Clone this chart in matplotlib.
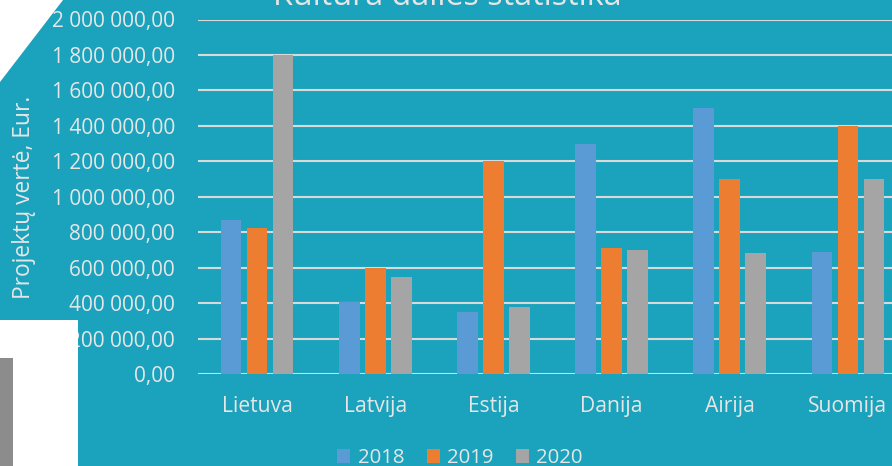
import matplotlib
matplotlib.use("Agg")
import matplotlib.pyplot as plt
from matplotlib.patches import Polygon, Rectangle
import numpy as np

categories = ["Lietuva", "Latvija", "Estija", "Danija", "Airija", "Suomija"]
years = ["2018", "2019", "2020"]
v2018 = [870000, 405000, 350000, 1300000, 1500000, 690000]
v2019 = [825000, 600000, 1200000, 710000, 1100000, 1400000]
v2020 = [1800000, 545000, 380000, 700000, 680000, 1100000]
yticks = [0, 200000, 400000, 600000, 800000, 1000000, 1200000, 1400000, 1600000, 1800000, 2000000]
title = "Kultūra dalies statistika"
ylabel = "Projektų vertė, Eur."

plt.rcParams['font.family'] = ['Open Sans', 'DejaVu Sans']
W, H = 892, 466
bg = "#1BA3BD"
txt = "#E6E6E6"
colors = ["#5B9BD5", "#ED7D31", "#A5A5A5"]

fig = plt.figure(figsize=(W / 100, H / 100), dpi=100)
fig.patch.set_facecolor(bg)

def fx(x): return x / W
def fy(y): return 1 - y / H
fig.patches.append(Polygon([(fx(0), fy(0)), (fx(63), fy(0)), (fx(0), fy(82))],
                           closed=True, transform=fig.transFigure, facecolor="white",
                           edgecolor="none", zorder=0))
fig.patches.append(Rectangle((fx(0), fy(466)), fx(78), fy(320) - fy(466),
                             transform=fig.transFigure, facecolor="white",
                             edgecolor="none", zorder=0))
fig.patches.append(Rectangle((fx(0), fy(466)), fx(13), fy(358) - fy(466),
                             transform=fig.transFigure, facecolor="#8C8C8C",
                             edgecolor="none", zorder=0))

left, right = 198, 907
top, bottom = 19.5, 374
ax = fig.add_axes([left / W, 1 - bottom / H, (right - left) / W, (bottom - top) / H])
ax.set_facecolor("none")

x = np.arange(len(categories))
off = 0.22
wid = 0.175
for i, (vals, c, lab) in enumerate(zip([v2018, v2019, v2020], colors, years)):
    ax.bar(x + (i - 1) * off, vals, width=wid, color=c, label=lab, zorder=3)

ax.set_xlim(-0.5, len(categories) - 0.5)
ax.set_ylim(0, 2000000)
ax.set_yticks(yticks)

def fmt(v):
    s = f"{int(v):,}".replace(",", " ")
    return s + ",00"

ax.set_yticklabels([fmt(v) for v in yticks], color=txt, fontsize=15)
ax.set_xticks(x)
ax.set_xticklabels(categories, color=txt, fontsize=15.2)
ax.tick_params(axis="both", length=0)
ax.tick_params(axis="y", pad=16.5)
ax.tick_params(axis="x", pad=15.5)
ax.grid(axis="y", color="#D9D9D9", linewidth=1.5, zorder=0)
ax.set_axisbelow(True)
for s in ax.spines.values():
    s.set_visible(False)

fig.text(fx(24), fy(197), ylabel, rotation=90, color=txt, fontsize=16.4,
         ha="center", va="center")
fig.text(fx(447), fy(-3.5), title, color=txt, fontsize=23.2, ha="center", va="center")

leg = fig.legend(loc="center", bbox_to_anchor=(fx(460), fy(458)), ncol=3,
                 frameon=False, fontsize=14.7, handlelength=0.65, handleheight=0.65,
                 handletextpad=0.35, columnspacing=1.1)
for t in leg.get_texts():
    t.set_color(txt)

fig.savefig("out.png", dpi=100, facecolor=bg)
